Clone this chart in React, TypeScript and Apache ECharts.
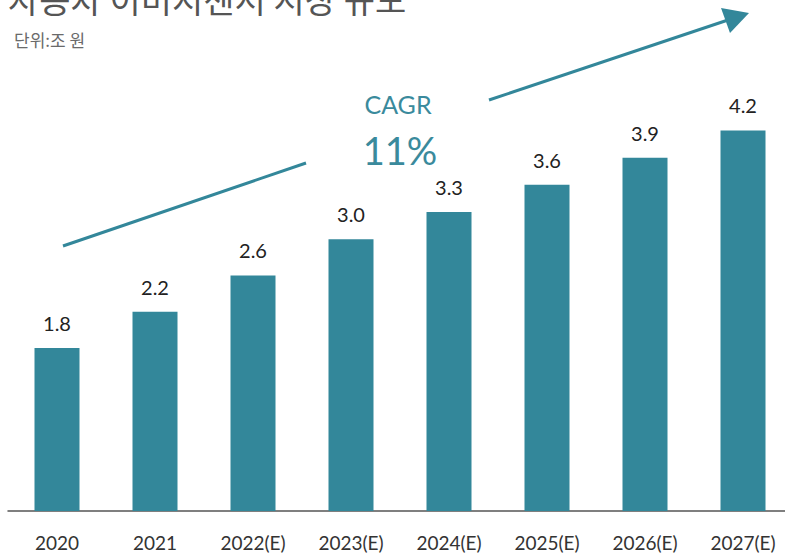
import React, { useEffect, useRef } from "react";
import * as echarts from "echarts";

const title = "자동차 이미지센서 시장 규모";
const unitLabel = "단위:조 원";
const categories = ["2020", "2021", "2022(E)", "2023(E)", "2024(E)", "2025(E)", "2026(E)", "2027(E)"];
const marketSize = [1.8, 2.2, 2.6, 3.0, 3.3, 3.6, 3.9, 4.2];
const cagrLabel = "CAGR";
const cagrValue = "11%";

const TEAL = "#33879a";

export default function App() {
  const ref = useRef<HTMLDivElement>(null);
  useEffect(() => {
    if (!ref.current) return;
    const chart = echarts.init(ref.current, null, { renderer: "svg" });
    chart.setOption({
      animation: false,
      backgroundColor: "#ffffff",
      grid: { left: 8, top: 58, right: 0, bottom: 45, containLabel: false },
      xAxis: {
        type: "category",
        data: categories,
        axisLine: { show: true, lineStyle: { color: "#555", width: 1.5 } },
        axisTick: { show: false },
        axisLabel: { color: "#333", fontSize: 19, fontFamily: "Lato", margin: 22 },
      },
      yAxis: {
        type: "value",
        min: 0,
        max: 5,
        show: false,
        splitLine: { show: false },
      },
      series: [
        {
          type: "bar",
          data: marketSize,
          barWidth: 45,
          itemStyle: { color: TEAL },
          label: {
            show: true,
            position: "top",
            distance: 15,
            color: "#222",
            fontSize: 20,
            fontFamily: "Lato",
            formatter: (p: any) => p.value.toFixed(1),
          },
        },
      ],
      graphic: [
        {
          type: "text",
          left: 8,
          top: -19,
          style: { text: title, fontSize: 34, fill: "#555", fontFamily: "Noto Sans CJK KR" },
        },
        {
          type: "text",
          left: 14,
          top: 31,
          style: { text: unitLabel, fontSize: 17, fill: "#6a6a6a", fontFamily: "Noto Sans CJK KR" },
        },
        {
          type: "line",
          shape: { x1: 63, y1: 246, x2: 306, y2: 163 },
          style: { stroke: TEAL, lineWidth: 3 },
        },
        {
          type: "line",
          shape: { x1: 489, y1: 100, x2: 728, y2: 20 },
          style: { stroke: TEAL, lineWidth: 3 },
        },
        {
          type: "polygon",
          shape: { points: [[749, 13], [721, 8], [730, 33]] },
          style: { fill: TEAL },
        },
        {
          type: "text",
          x: 398,
          y: 104,
          style: {
            text: cagrLabel,
            fontSize: 25,
            fill: "#3a8a9c",
            fontFamily: "Lato",
            align: "center",
            verticalAlign: "middle",
          },
        },
        {
          type: "text",
          x: 400,
          y: 150,
          style: {
            text: cagrValue,
            fontSize: 38,
            fill: "#3a8a9c",
            fontFamily: "Lato",
            align: "center",
            verticalAlign: "middle",
          },
        },
      ],
    });
    return () => chart.dispose();
  }, []);
  return (
    <div style={{ width: 785, height: 556, position: "absolute", left: 0, top: 0, overflow: "hidden" }}>
      <div ref={ref} style={{ width: 792, height: 556 }} />
    </div>
  );
}
